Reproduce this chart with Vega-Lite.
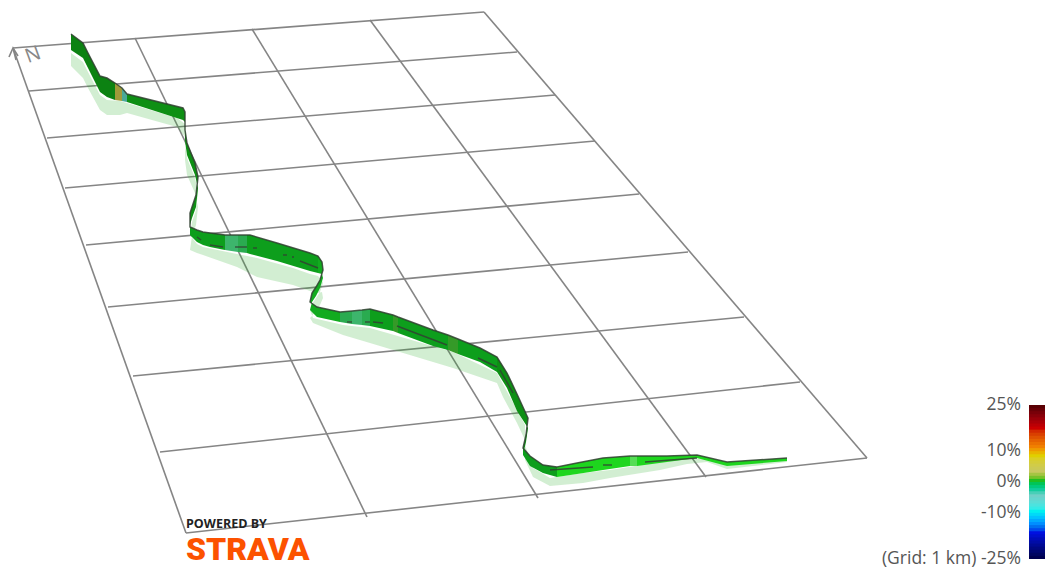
{"$schema":"https://vega.github.io/schema/vega-lite/v6.json","width":1045,"height":569,"padding":0,"autosize":{"type":"fit","contains":"padding"},"background":"white","view":{"stroke":null},
"datasets":{
"grid":[
{"line":"h1","x":13,"y":48},{"line":"h1","x":484,"y":12},
{"line":"h2","x":29,"y":91},{"line":"h2","x":517,"y":52},
{"line":"h3","x":47,"y":138},{"line":"h3","x":555,"y":95},
{"line":"h4","x":65,"y":188},{"line":"h4","x":595,"y":141},
{"line":"h5","x":86,"y":245},{"line":"h5","x":639,"y":194},
{"line":"h6","x":108,"y":307},{"line":"h6","x":688,"y":252},
{"line":"h7","x":133,"y":376},{"line":"h7","x":744,"y":317},
{"line":"h8","x":160,"y":452},{"line":"h8","x":800,"y":382},
{"line":"h9","x":186,"y":533},{"line":"h9","x":867,"y":458},
{"line":"v1","x":13,"y":48},{"line":"v1","x":186,"y":533},
{"line":"v2","x":135,"y":38},{"line":"v2","x":367,"y":517},
{"line":"v3","x":252,"y":29},{"line":"v3","x":538,"y":498},
{"line":"v4","x":370,"y":20},{"line":"v4","x":706,"y":477},
{"line":"v5","x":484,"y":12},{"line":"v5","x":867,"y":458},
{"line":"a1","x":13,"y":48},{"line":"a1","x":16,"y":60},
{"line":"a2","x":9,"y":57},{"line":"a2","x":13,"y":48},{"line":"a2","x":18,"y":56}
],
"shadow":[
{"k":1,"x":71,"t":53,"b":66},{"k":2,"x":83,"t":62,"b":78},{"k":3,"x":88,"t":72,"b":88},{"k":4,"x":100,"t":95,"b":110},{"k":5,"x":107,"t":100,"b":115},{"k":6,"x":120,"t":101,"b":115},{"k":7,"x":127,"t":103,"b":113},{"k":8,"x":177,"t":118,"b":127},{"k":9,"x":185,"t":124,"b":137},{"k":10,"x":185,"t":145,"b":160},{"k":11,"x":187,"t":158,"b":175},{"k":12,"x":195,"t":178,"b":193},{"k":13,"x":198,"t":192,"b":207},{"k":14,"x":196,"t":210,"b":225},{"k":15,"x":192,"t":222,"b":236},{"k":16,"x":190,"t":235,"b":250},{"k":17,"x":197,"t":244,"b":253},{"k":18,"x":203,"t":247,"b":255},{"k":19,"x":237,"t":254,"b":267},{"k":20,"x":257,"t":258,"b":277},{"k":21,"x":293,"t":268,"b":285},{"k":22,"x":310,"t":274,"b":291},{"k":23,"x":318,"t":276,"b":293},{"k":24,"x":322,"t":280,"b":292},{"k":25,"x":323,"t":283,"b":298},{"k":26,"x":320,"t":292,"b":305},{"k":27,"x":312,"t":304,"b":316},{"k":28,"x":310,"t":310,"b":318},{"k":29,"x":313,"t":318,"b":323},{"k":30,"x":343,"t":325,"b":335},{"k":31,"x":370,"t":328,"b":343},{"k":32,"x":453,"t":352,"b":368},{"k":33,"x":497,"t":373,"b":383},{"k":34,"x":503,"t":384,"b":397},{"k":35,"x":517,"t":410,"b":423},{"k":36,"x":525,"t":425,"b":440},{"k":37,"x":525,"t":445,"b":460},{"k":38,"x":533,"t":468,"b":477},{"k":39,"x":550,"t":478,"b":486},{"k":40,"x":583,"t":473,"b":483},{"k":41,"x":610,"t":470,"b":478},{"k":42,"x":660,"t":462,"b":470},{"k":43,"x":687,"t":459,"b":464},{"k":44,"x":707,"t":458,"b":462},{"k":45,"x":727,"t":464,"b":469},{"k":46,"x":787,"t":460,"b":462}
],
"wall":[
{"s":"A","k":1,"x":71,"t":34,"b":50,"shade":"deep"},{"s":"A","k":2,"x":83,"t":43,"b":58,"shade":"deep"},{"s":"A","k":3,"x":88,"t":53,"b":68,"shade":"deep"},{"s":"A","k":4,"x":100,"t":76,"b":92,"shade":"deep"},{"s":"A","k":5,"x":107,"t":78,"b":97,"shade":"deep"},{"s":"A","k":6,"x":115,"t":83,"b":100,"shade":"deep"},
{"s":"B","k":7,"x":115,"t":83,"b":100,"shade":"olive"},{"s":"B","k":8,"x":122,"t":88,"b":101,"shade":"olive"},
{"s":"C","k":9,"x":122,"t":88,"b":101,"shade":"teal"},{"s":"C","k":10,"x":127,"t":94,"b":102,"shade":"teal"},
{"s":"D","k":11,"x":127,"t":94,"b":102,"shade":"forest"},{"s":"D","k":12,"x":183,"t":108,"b":120,"shade":"forest"},{"s":"D","k":13,"x":185,"t":112,"b":122,"shade":"forest"},{"s":"D","k":14,"x":185,"t":130,"b":141,"shade":"forest"},{"s":"D","k":15,"x":187,"t":143,"b":155,"shade":"forest"},{"s":"D","k":16,"x":195,"t":163,"b":175,"shade":"forest"},{"s":"D","k":17,"x":198,"t":177,"b":188,"shade":"forest"},{"s":"D","k":18,"x":196,"t":195,"b":207,"shade":"forest"},{"s":"D","k":19,"x":192,"t":207,"b":218,"shade":"forest"},{"s":"D","k":20,"x":190,"t":213,"b":225,"shade":"forest"},{"s":"D","k":21,"x":190,"t":227,"b":235,"shade":"forest"},
{"s":"E","k":22,"x":190,"t":227,"b":235,"shade":"green"},{"s":"E","k":23,"x":197,"t":230,"b":242,"shade":"green"},{"s":"E","k":24,"x":203,"t":232,"b":245,"shade":"green"},{"s":"E","k":25,"x":210,"t":233,"b":247,"shade":"green"},{"s":"E","k":26,"x":225,"t":235,"b":250,"shade":"green"},
{"s":"F","k":27,"x":225,"t":235,"b":250,"shade":"pale1"},{"s":"F","k":28,"x":238,"t":235,"b":252,"shade":"pale1"},
{"s":"G","k":29,"x":238,"t":235,"b":252,"shade":"pale2"},{"s":"G","k":30,"x":247,"t":235,"b":253,"shade":"pale2"},
{"s":"H","k":31,"x":247,"t":235,"b":253,"shade":"green"},{"s":"H","k":32,"x":250,"t":235,"b":254,"shade":"green"},{"s":"H","k":33,"x":277,"t":243,"b":261,"shade":"green"},{"s":"H","k":34,"x":310,"t":253,"b":271,"shade":"green"},{"s":"H","k":35,"x":318,"t":256,"b":273,"shade":"green"},
{"s":"I","k":36,"x":318,"t":256,"b":273,"shade":"vivid"},{"s":"I","k":37,"x":322,"t":262,"b":274,"shade":"vivid"},{"s":"I","k":38,"x":323,"t":270,"b":278,"shade":"vivid"},{"s":"I","k":39,"x":320,"t":280,"b":288,"shade":"vivid"},{"s":"I","k":40,"x":316,"t":287,"b":296,"shade":"vivid"},{"s":"I","k":41,"x":312,"t":293,"b":302,"shade":"vivid"},{"s":"I","k":42,"x":310,"t":302,"b":310,"shade":"vivid"},{"s":"I","k":43,"x":317,"t":307,"b":317,"shade":"vivid"},{"s":"I","k":44,"x":340,"t":312,"b":322,"shade":"vivid"},
{"s":"J","k":45,"x":340,"t":312,"b":322,"shade":"pale2"},{"s":"J","k":46,"x":352,"t":311,"b":324,"shade":"pale2"},
{"s":"K","k":47,"x":352,"t":311,"b":324,"shade":"pale1"},{"s":"K","k":48,"x":362,"t":310,"b":325,"shade":"pale1"},
{"s":"L","k":49,"x":362,"t":310,"b":325,"shade":"pale2"},{"s":"L","k":50,"x":370,"t":309,"b":326,"shade":"pale2"},
{"s":"M","k":51,"x":370,"t":309,"b":326,"shade":"green"},{"s":"M","k":52,"x":393,"t":315,"b":331,"shade":"green"},
{"s":"N","k":53,"x":393,"t":315,"b":331,"shade":"moss"},{"s":"N","k":54,"x":398,"t":317,"b":333,"shade":"moss"},
{"s":"O","k":55,"x":398,"t":317,"b":333,"shade":"green"},{"s":"O","k":56,"x":433,"t":330,"b":346,"shade":"green"},{"s":"O","k":57,"x":448,"t":335,"b":350,"shade":"green"},
{"s":"P","k":58,"x":448,"t":335,"b":350,"shade":"moss"},{"s":"P","k":59,"x":458,"t":339,"b":354,"shade":"moss"},
{"s":"Q","k":60,"x":458,"t":339,"b":354,"shade":"green"},{"s":"Q","k":61,"x":480,"t":348,"b":362,"shade":"green"},{"s":"Q","k":62,"x":497,"t":357,"b":372,"shade":"green"},
{"s":"R","k":63,"x":497,"t":357,"b":372,"shade":"forest"},{"s":"R","k":64,"x":507,"t":373,"b":388,"shade":"forest"},{"s":"R","k":65,"x":517,"t":394,"b":411,"shade":"forest"},{"s":"R","k":66,"x":528,"t":418,"b":428,"shade":"forest"},{"s":"R","k":67,"x":526,"t":435,"b":442,"shade":"forest"},{"s":"R","k":68,"x":523,"t":448,"b":455,"shade":"forest"},
{"s":"S","k":69,"x":523,"t":448,"b":455,"shade":"green"},{"s":"S","k":70,"x":530,"t":456,"b":466,"shade":"green"},{"s":"S","k":71,"x":543,"t":465,"b":473,"shade":"green"},{"s":"S","k":72,"x":557,"t":467,"b":477,"shade":"green"},
{"s":"T","k":73,"x":557,"t":467,"b":477,"shade":"bright"},{"s":"T","k":74,"x":577,"t":463,"b":474,"shade":"bright"},{"s":"T","k":75,"x":603,"t":458,"b":470,"shade":"bright"},{"s":"T","k":76,"x":630,"t":456,"b":466,"shade":"bright"},
{"s":"U","k":77,"x":630,"t":456,"b":466,"shade":"light"},{"s":"U","k":78,"x":637,"t":456,"b":466,"shade":"light"},
{"s":"V","k":79,"x":637,"t":456,"b":466,"shade":"bright"},{"s":"V","k":80,"x":667,"t":456,"b":462,"shade":"bright"},{"s":"V","k":81,"x":697,"t":455,"b":458,"shade":"bright"},{"s":"V","k":82,"x":727,"t":462,"b":466,"shade":"bright"},{"s":"V","k":83,"x":787,"t":458,"b":461,"shade":"bright"}
],
"dashes":[
{"d":1,"x":197,"y":237},{"d":1,"x":201,"y":240},{"d":2,"x":210,"y":245},{"d":2,"x":223,"y":247},{"d":3,"x":235,"y":247},{"d":3,"x":247,"y":247},{"d":4,"x":253,"y":248},{"d":4,"x":257,"y":248},{"d":5,"x":283,"y":255},{"d":5,"x":287,"y":255},{"d":6,"x":292,"y":257},{"d":6,"x":294,"y":257},{"d":7,"x":300,"y":261},{"d":7,"x":318,"y":268},
{"d":8,"x":347,"y":322},{"d":8,"x":352,"y":322},{"d":9,"x":365,"y":322},{"d":9,"x":370,"y":322},{"d":10,"x":373,"y":322},{"d":10,"x":383,"y":323},{"d":11,"x":397,"y":326},{"d":11,"x":447,"y":345},{"d":12,"x":478,"y":358},{"d":12,"x":497,"y":367},{"d":13,"x":500,"y":370},{"d":13,"x":513,"y":393},
{"d":14,"x":550,"y":470},{"d":14,"x":593,"y":467},{"d":15,"x":603,"y":465},{"d":15,"x":612,"y":465},{"d":16,"x":645,"y":462},{"d":16,"x":697,"y":458}
],
"bar":[
{"g":-25,"h":-23.5},{"g":-24,"h":-22.5},{"g":-23,"h":-21.5},{"g":-22,"h":-20.5},{"g":-21,"h":-19.5},{"g":-20,"h":-18.5},{"g":-19,"h":-17.5},{"g":-18,"h":-16.5},{"g":-17,"h":-15.5},{"g":-16,"h":-14.5},{"g":-15,"h":-13.5},{"g":-14,"h":-12.5},{"g":-13,"h":-11.5},{"g":-12,"h":-10.5},{"g":-11,"h":-9.5},{"g":-10,"h":-8.5},{"g":-9,"h":-7.5},{"g":-8,"h":-6.5},{"g":-7,"h":-5.5},{"g":-6,"h":-4.5},{"g":-5,"h":-3.5},{"g":-4,"h":-2.5},{"g":-3,"h":-1.5},{"g":-2,"h":-0.5},{"g":-1,"h":0.5},{"g":0,"h":1.5},{"g":1,"h":2.5},{"g":2,"h":3.5},{"g":3,"h":4.5},{"g":4,"h":5.5},{"g":5,"h":6.5},{"g":6,"h":7.5},{"g":7,"h":8.5},{"g":8,"h":9.5},{"g":9,"h":10.5},{"g":10,"h":11.5},{"g":11,"h":12.5},{"g":12,"h":13.5},{"g":13,"h":14.5},{"g":14,"h":15.5},{"g":15,"h":16.5},{"g":16,"h":17.5},{"g":17,"h":18.5},{"g":18,"h":19.5},{"g":19,"h":20.5},{"g":20,"h":21.5},{"g":21,"h":22.5},{"g":22,"h":23.5},{"g":23,"h":24.5},{"g":24,"h":25}
],
"ticks":[{"grade":25,"label":"25%"},{"grade":10,"label":"10%"},{"grade":0,"label":"0%"},{"grade":-10,"label":"-10%"},{"grade":-25,"label":"(Grid: 1 km) -25%"}]
},
"resolve":{"scale":{"y":"independent","color":"independent"}},
"layer":[
{"data":{"name":"grid"},"mark":{"type":"line","color":"#858585","strokeWidth":1.6,"order":null},"encoding":{"x":{"field":"x","type":"quantitative","axis":null,"scale":{"domain":[0,1045],"nice":false,"zero":false}},"y":{"field":"y","type":"quantitative","axis":null,"scale":{"domain":[569,0],"range":[569,0],"nice":false,"zero":false}},"detail":{"field":"line"}}},
{"data":{"name":"shadow"},"mark":{"type":"area","orient":"vertical","color":"#1fa81f","opacity":0.2,"order":null},"encoding":{"x":{"field":"x","type":"quantitative"},"y":{"field":"t","type":"quantitative","axis":null,"scale":{"domain":[569,0],"range":[569,0],"nice":false,"zero":false}},"y2":{"field":"b"}}},
{"data":{"name":"wall"},"mark":{"type":"area","orient":"vertical","order":null},"encoding":{"x":{"field":"x","type":"quantitative"},"y":{"field":"t","type":"quantitative","axis":null,"scale":{"domain":[569,0],"range":[569,0],"nice":false,"zero":false}},"y2":{"field":"b"},"detail":{"field":"s"},"color":{"field":"shade","type":"nominal","legend":null,"scale":{"domain":["deep","forest","green","vivid","bright","pale1","pale2","moss","olive","teal","light"],"range":["#0c8212","#0e8f14","#0d9e1c","#12ab1f","#1ed61e","#3db56c","#2aab50","#359a28","#a09a3a","#4aa898","#55dd55"]}}}},
{"data":{"name":"wall"},"mark":{"type":"line","color":"#2f3f2f","strokeWidth":1.5,"opacity":0.85,"order":null},"encoding":{"x":{"field":"x","type":"quantitative"},"y":{"field":"t","type":"quantitative","axis":null,"scale":{"domain":[569,0],"range":[569,0],"nice":false,"zero":false}}}},
{"data":{"name":"dashes"},"mark":{"type":"line","color":"#333f33","strokeWidth":1.4,"opacity":0.85,"order":null},"encoding":{"x":{"field":"x","type":"quantitative"},"y":{"field":"y","type":"quantitative","axis":null,"scale":{"domain":[569,0],"range":[569,0],"nice":false,"zero":false}},"detail":{"field":"d"}}},
{"data":{"name":"bar"},"mark":{"type":"rect"},"encoding":{"x":{"datum":1029,"type":"quantitative"},"x2":{"datum":1045},"y":{"field":"g","type":"quantitative","axis":null,"scale":{"domain":[-25,25],"range":[559,405],"nice":false,"zero":false}},"y2":{"field":"h"},"color":{"field":"g","type":"quantitative","legend":null,"scale":{"domain":[-25,-17,-15,-10,-5,0,3,8,11,17,25],"range":["#000050","#0010e0","#0070f0","#00f0f0","#70d0c8","#1fbf1f","#c8c860","#e0d000","#f08000","#cc0000","#4a0000"]}}}},
{"data":{"name":"ticks"},"mark":{"type":"text","align":"right","baseline":"middle","font":"Open Sans","fontSize":17.5,"color":"#555555"},"encoding":{"x":{"datum":1021,"type":"quantitative"},"y":{"field":"grade","type":"quantitative","axis":null,"scale":{"domain":[-25,25],"range":[559,405],"nice":false,"zero":false}},"text":{"field":"label"}}},
{"data":{"values":[{"label":"N"}]},"mark":{"type":"text","align":"center","baseline":"middle","font":"Open Sans","fontSize":20,"color":"#888888","angle":340},"encoding":{"x":{"datum":33,"type":"quantitative"},"y":{"datum":55,"type":"quantitative","axis":null,"scale":{"domain":[569,0],"range":[569,0],"nice":false,"zero":false}},"text":{"field":"label"}}},
{"data":{"values":[{"label":"POWERED BY"}]},"mark":{"type":"text","align":"left","baseline":"middle","font":"Open Sans","fontWeight":"bold","fontSize":12.5,"color":"#222222"},"encoding":{"x":{"datum":186,"type":"quantitative"},"y":{"datum":524,"type":"quantitative","axis":null,"scale":{"domain":[569,0],"range":[569,0],"nice":false,"zero":false}},"text":{"field":"label"}}},
{"data":{"values":[{"label":"STRAVA"}]},"mark":{"type":"text","align":"left","baseline":"middle","font":"Roboto","fontWeight":900,"fontSize":32,"color":"#fc5200"},"encoding":{"x":{"datum":186,"type":"quantitative"},"y":{"datum":550,"type":"quantitative","axis":null,"scale":{"domain":[569,0],"range":[569,0],"nice":false,"zero":false}},"text":{"field":"label"}}}
]}
